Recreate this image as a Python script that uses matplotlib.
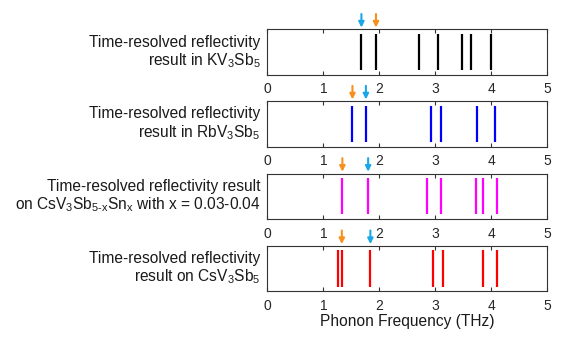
import matplotlib
matplotlib.use('Agg')
import matplotlib.pyplot as plt

plt.rcParams['font.family'] = ['Liberation Sans', 'DejaVu Sans']
plt.rcParams['mathtext.fontset'] = 'custom'
plt.rcParams['mathtext.rm'] = 'Liberation Sans'
plt.rcParams['mathtext.it'] = 'Liberation Sans'

# Phonon frequencies (THz) per sample
labels = [
    'Time-resolved reflectivity\nresult in KV$_3$Sb$_5$',
    'Time-resolved reflectivity\nresult in RbV$_3$Sb$_5$',
    'Time-resolved reflectivity result\non CsV$_3$Sb$_{5\u2010x}$Sn$_x$ with x = 0.03-0.04',
    'Time-resolved reflectivity\nresult on CsV$_3$Sb$_5$',
]
freqs_k = [1.68, 1.94, 2.71, 3.04, 3.47, 3.63, 4.00]
freqs_rb = [1.52, 1.76, 2.92, 3.11, 3.74, 4.06]
freqs_snx = [1.34, 1.80, 2.86, 3.10, 3.73, 3.85, 4.11]
freqs_cs = [1.26, 1.33, 1.84, 2.96, 3.14, 3.86, 4.11]
line_colors = ['black', '#0000ff', '#ff00ff', '#ff0000']

# arrow markers: (cyan position, orange position)
cyan_pos = [1.68, 1.76, 1.80, 1.84]
orange_pos = [1.94, 1.52, 1.34, 1.33]
CYAN = '#1aa7e8'
ORANGE = '#f7901e'

freqs = [freqs_k, freqs_rb, freqs_snx, freqs_cs]

fig = plt.figure(figsize=(5.62, 3.4), dpi=100)
bottoms = [0.780, 0.5686, 0.356, 0.1432]
left, width, height = 0.4757, 0.4982, 0.1335

for i in range(4):
    ax = fig.add_axes([left, bottoms[i], width, height])
    ax.vlines(freqs[i], 0.1, 0.9, color=line_colors[i], linewidth=1.6)
    ax.set_xlim(0, 5)
    ax.set_ylim(0, 1)
    ax.set_xticks(range(6))
    ax.set_yticks([])
    ax.tick_params(axis='x', direction='in', length=3, top=True, labelsize=10,
                   pad=5.5, color='0.2', labelcolor='0.15')
    for s in ax.spines.values():
        s.set_color('0.2')
        s.set_linewidth(0.8)
    ax.text(-0.025, 0.5, labels[i], transform=ax.transAxes, ha='right',
            va='center', multialignment='right', fontsize=11.2, color='0.1',
            linespacing=1.1)
    for xpos, c in [(cyan_pos[i], CYAN), (orange_pos[i], ORANGE)]:
        ax.annotate('', xy=(xpos, 1.04), xytext=(xpos, 1.34),
                    xycoords=('data', 'axes fraction'),
                    textcoords=('data', 'axes fraction'),
                    arrowprops=dict(arrowstyle='-|>', color=c, lw=1.5,
                                    mutation_scale=8, shrinkA=0, shrinkB=0),
                    annotation_clip=False)
    if i == 3:
        ax.set_xlabel('Phonon Frequency (THz)', fontsize=11.2, labelpad=1,
                      color='0.1')

fig.savefig('out.png', dpi=100)
